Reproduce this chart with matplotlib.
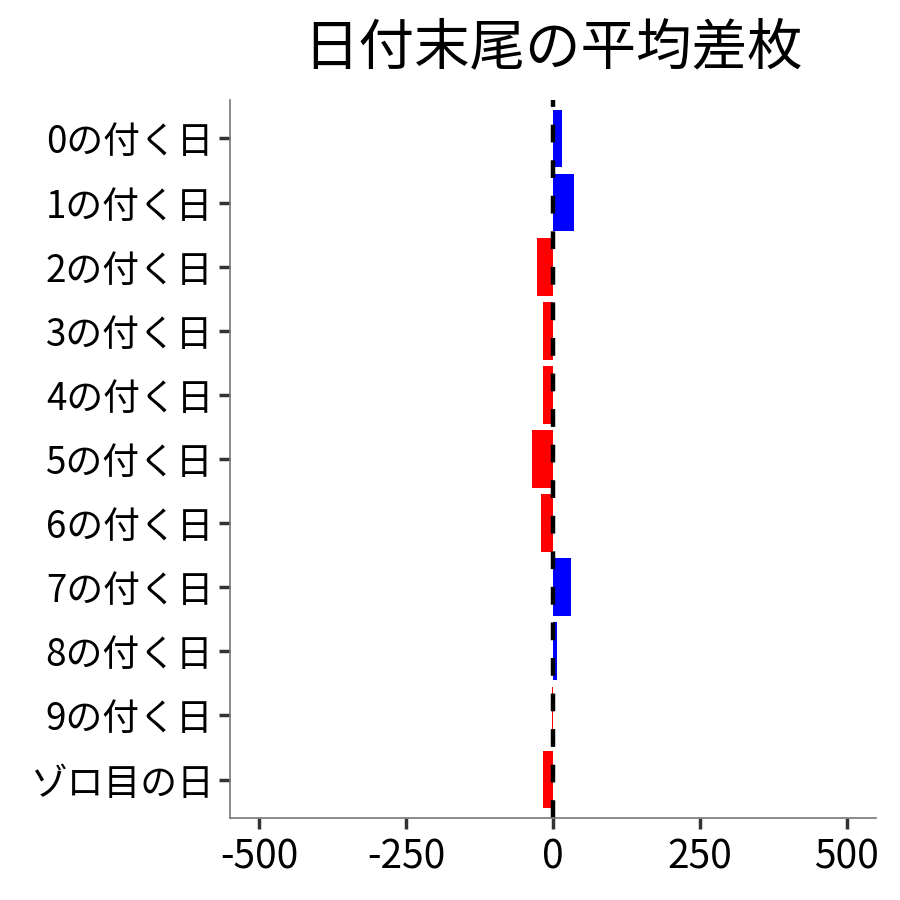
import matplotlib
matplotlib.use("Agg")
import matplotlib.pyplot as plt
import numpy as np

plt.rcParams['font.family'] = ['Noto Sans CJK JP', 'DejaVu Sans']

# data
categories = ["0の付く日", "1の付く日", "2の付く日", "3の付く日", "4の付く日",
              "5の付く日", "6の付く日", "7の付く日", "8の付く日", "9の付く日",
              "ゾロ目の日"]
mean_diff = [16, 36, -28, -17, -17, -36, -21, 31, 7, -2, -17]
xticks = [-500, -250, 0, 250, 500]

colors = ["blue" if v > 0 else "red" for v in mean_diff]
y = np.arange(len(categories))

fig = plt.figure(figsize=(9, 9), dpi=100)
ax = fig.add_axes([0.2556, 0.0911, 0.7178, 0.7978])

ax.barh(y, mean_diff, height=0.9, color=colors)
ax.axvline(0, color="black", lw=3.2, ls=(0, (4, 4)))

ax.set_yticks(y)
ax.set_yticklabels(categories)
ax.set_ylim(len(categories) - 0.4, -0.6)
ax.set_xticks(xticks)
ax.set_xticklabels([str(t) for t in xticks])
ax.set_xlim(-550, 550)

for s in ["top", "right"]:
    ax.spines[s].set_visible(False)
for s in ["left", "bottom"]:
    ax.spines[s].set_color("#777777")
    ax.spines[s].set_linewidth(1.2)
ax.tick_params(axis="both", length=8, width=2.5, color="#333333",
               labelcolor="black", pad=4)
ax.tick_params(axis="y", labelsize=26.5)
ax.tick_params(axis="x", labelsize=28, pad=6)

ax.set_title("日付末尾の平均差枚", fontsize=40, pad=26)

fig.savefig("out.png", dpi=100)
